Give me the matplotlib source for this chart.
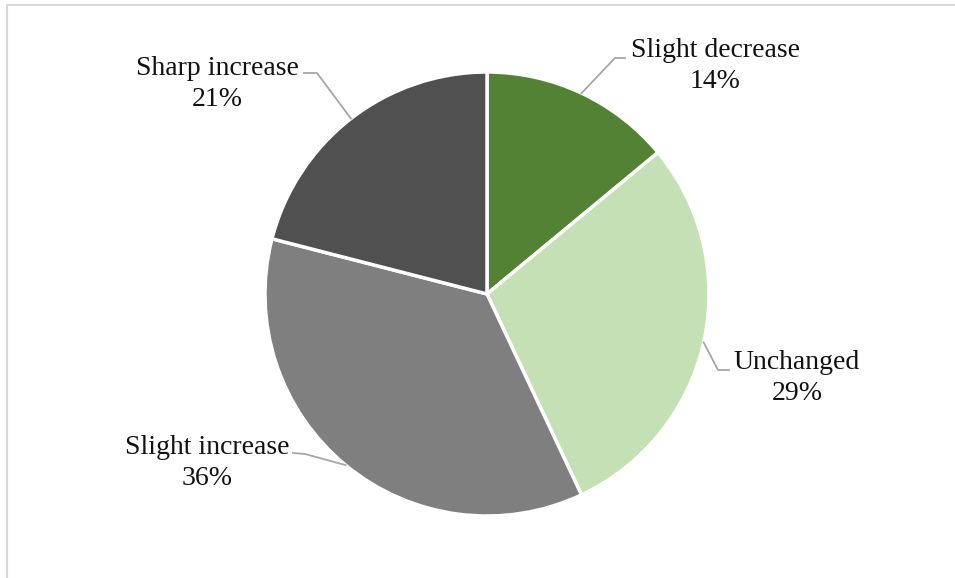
import numpy as np
import matplotlib
matplotlib.use("Agg")
import matplotlib.pyplot as plt

# ── data ──────────────────────────────────────────────────────────────────────
CATEGORIES = ["Slight decrease", "Unchanged", "Slight increase", "Sharp increase"]
SHARES     = [14, 29, 36, 21]
COLORS     = ["#548235", "#c5e0b4", "#7f7f7f", "#505050"]

# label block centres and leader-line elbows, in pixel space (y measured from top)
LABEL_POS  = [(715, 66), (797, 378), (207, 463), (217, 84)]
ELBOWS     = [[(625, 58), (615, 58)],
              [(729, 370), (718, 370)],
              [(293, 453), (305, 454)],
              [(304, 73), (317, 73)]]

W, H = 955, 578
plt.rcParams["font.family"] = ["Liberation Serif", "DejaVu Serif"]

fig = plt.figure(figsize=(W / 100, H / 100), dpi=100)
ax = fig.add_axes([0, 0, 1, 1])

cx, cy, r = 487, H - 294, 222
wedges, _ = ax.pie(SHARES, colors=COLORS, startangle=90, counterclock=False,
                   center=(cx, cy), radius=r, frame=True,
                   wedgeprops=dict(edgecolor="white", linewidth=2.5))
ax.set_xlim(0, W)
ax.set_ylim(0, H)
ax.set_aspect("equal")
ax.axis("off")

for w, cat, val, (lx, ly), elbow in zip(wedges, CATEGORIES, SHARES, LABEL_POS, ELBOWS):
    mid = np.deg2rad((w.theta1 + w.theta2) / 2)
    ex, ey = cx + r * np.cos(mid), cy + r * np.sin(mid)
    xs = [elbow[0][0], elbow[1][0], ex]
    ys = [H - elbow[0][1], H - elbow[1][1], ey]
    ax.plot(xs, ys, color="#a6a6a6", lw=1.3, zorder=1)
    ax.text(lx, H - ly, f"{cat}\n{val}%", ha="center", va="center",
            multialignment="center", fontsize=20, color="#111111",
            linespacing=1.3)

# chart frame (only left and top edges are visible)
ax.plot([7, 7], [0, H - 5], color="#d9d9d9", lw=1.5, clip_on=False)
ax.plot([7, W], [H - 5, H - 5], color="#d9d9d9", lw=1.5, clip_on=False)

fig.savefig("out.png", dpi=100)
